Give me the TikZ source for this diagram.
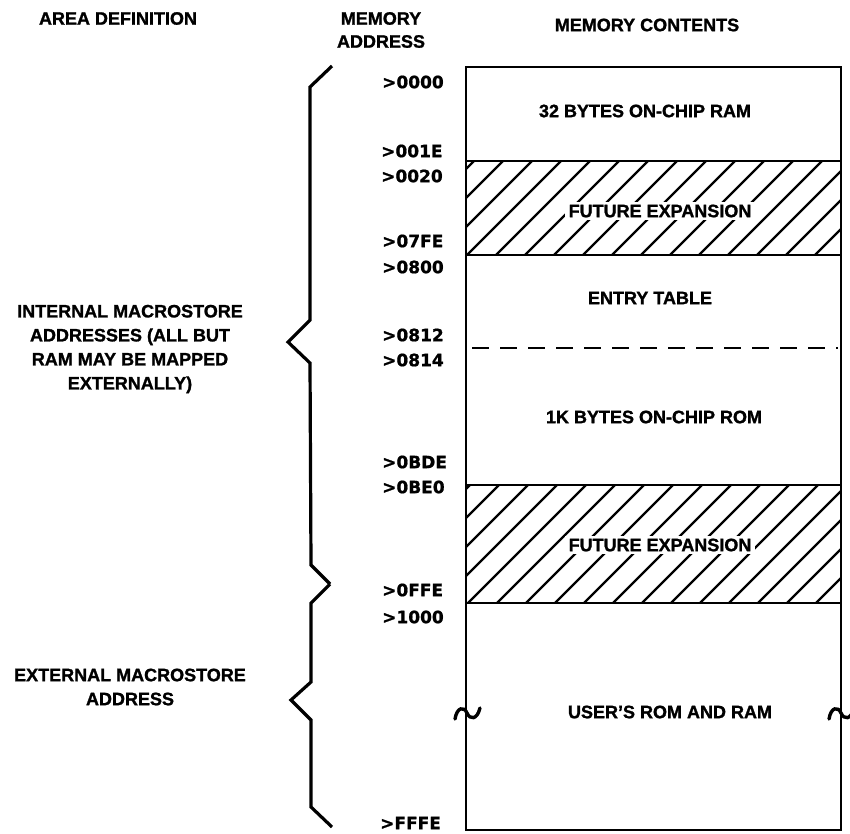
\documentclass[tikz,border=0pt]{standalone}
\usepackage{fontspec}
\setmainfont{Liberation Sans}[BoldFeatures={FakeBold=1.3}]
\newfontfamily\addrfont{DejaVu Sans}[BoldFeatures={FakeBold=1.0}]
\begin{document}
\begin{tikzpicture}[x=1pt,y=-1pt]
\useasboundingbox (0,0) rectangle (850,833);
\tikzset{
  lbl/.style={font=\fontsize{18}{24}\selectfont\bfseries, inner sep=0pt, align=center},
  addr/.style={font=\addrfont\fontsize{17}{20}\selectfont\bfseries, anchor=west, inner sep=0pt},
  cell/.style={font=\fontsize{18}{24}\selectfont\bfseries, inner sep=0pt},
  hcell/.style={cell, fill=white, inner xsep=4pt, inner ysep=3pt},
  frame/.style={line width=2.8pt},
  hatchline/.style={line width=2.2pt},
  brace/.style={line width=3.2pt, line join=miter},
  squiggle/.style={line width=3.4pt, line cap=round},
}

% column headings
\node[lbl] (hArea) at (118,18.5) {AREA DEFINITION};
\node[lbl, font=\fontsize{18}{23}\selectfont\bfseries] (hAddr) at (381,30) {MEMORY\\ADDRESS};
\node[lbl] (hCont) at (647,25) {MEMORY CONTENTS};

% hatched (reserved) bands
\begin{scope}
  \clip (466,161) rectangle (841,255);
  \foreach \k in {0,...,17}
    \draw[hatchline] ({466-94+8+\k*29},255) -- ++(94,-94);
\end{scope}
\begin{scope}
  \clip (466,485) rectangle (841,603);
  \foreach \k in {0,...,18}
    \draw[hatchline] ({466-118+4+\k*29},603) -- ++(118,-118);
\end{scope}

% memory map outline and section boundaries
\draw[frame] (466,67) rectangle (841,830);
\draw[frame] (466,161) -- (841,161);
\draw[frame] (466,255) -- (841,255);
\draw[frame] (466,485) -- (841,485);
\draw[frame] (466,603) -- (841,603);
\draw[line width=2.6pt, dash pattern=on 17pt off 11pt] (472,348) -- (838,348);

% break marks on the external area
\draw[squiggle] (455,719) .. controls (457,707) and (464,706) .. (467,713)
                .. controls (470,720) and (477,720) .. (480,708);
\draw[squiggle] (829,719) .. controls (831,707) and (838,706) .. (841,713)
                .. controls (844,720) and (851,720) .. (854,708);

% contents
\node[cell] (ram) at (645,111) {32 BYTES ON-CHIP RAM};
\node[hcell] (fut1) at (660,211) {FUTURE EXPANSION};
\node[cell] (entry) at (650,298) {ENTRY TABLE};
\node[cell] (rom) at (654,417) {1K BYTES ON-CHIP ROM};
\node[hcell] (fut2) at (660,545) {FUTURE EXPANSION};
\node[cell] (user) at (670,712) {USER'S ROM AND RAM};

% addresses
\node[addr] (a0000) at (382,82) {>0000};
\node[addr] (a001E) at (381,151) {>001E};
\node[addr] (a0020) at (381,176) {>0020};
\node[addr] (a07FE) at (382,241) {>07FE};
\node[addr] (a0800) at (382,267) {>0800};
\node[addr] (a0812) at (382,335) {>0812};
\node[addr] (a0814) at (382,360) {>0814};
\node[addr] (a0BDE) at (382,462) {>0BDE};
\node[addr] (a0BE0) at (382,487) {>0BE0};
\node[addr] (a0FFE) at (382,590) {>0FFE};
\node[addr] (a1000) at (382,617) {>1000};
\node[addr] (aFFFE) at (380,823) {>FFFE};

% braces
\draw[brace] (332,66) -- (310,87) -- (310,320) -- (288,342) -- (310,363)
             -- (311,565) -- (330,584);
\draw[brace] (330,584) -- (311,603) -- (311,682) -- (291,700) -- (311,720)
             -- (311,807) -- (332,827);

% area definitions
\node[lbl] (internal) at (130,349)
  {INTERNAL MACROSTORE\\ADDRESSES (ALL BUT\\RAM MAY BE MAPPED\\EXTERNALLY)};
\node[lbl] (external) at (130,687) {EXTERNAL MACROSTORE\\ADDRESS};
\end{tikzpicture}
\end{document}
